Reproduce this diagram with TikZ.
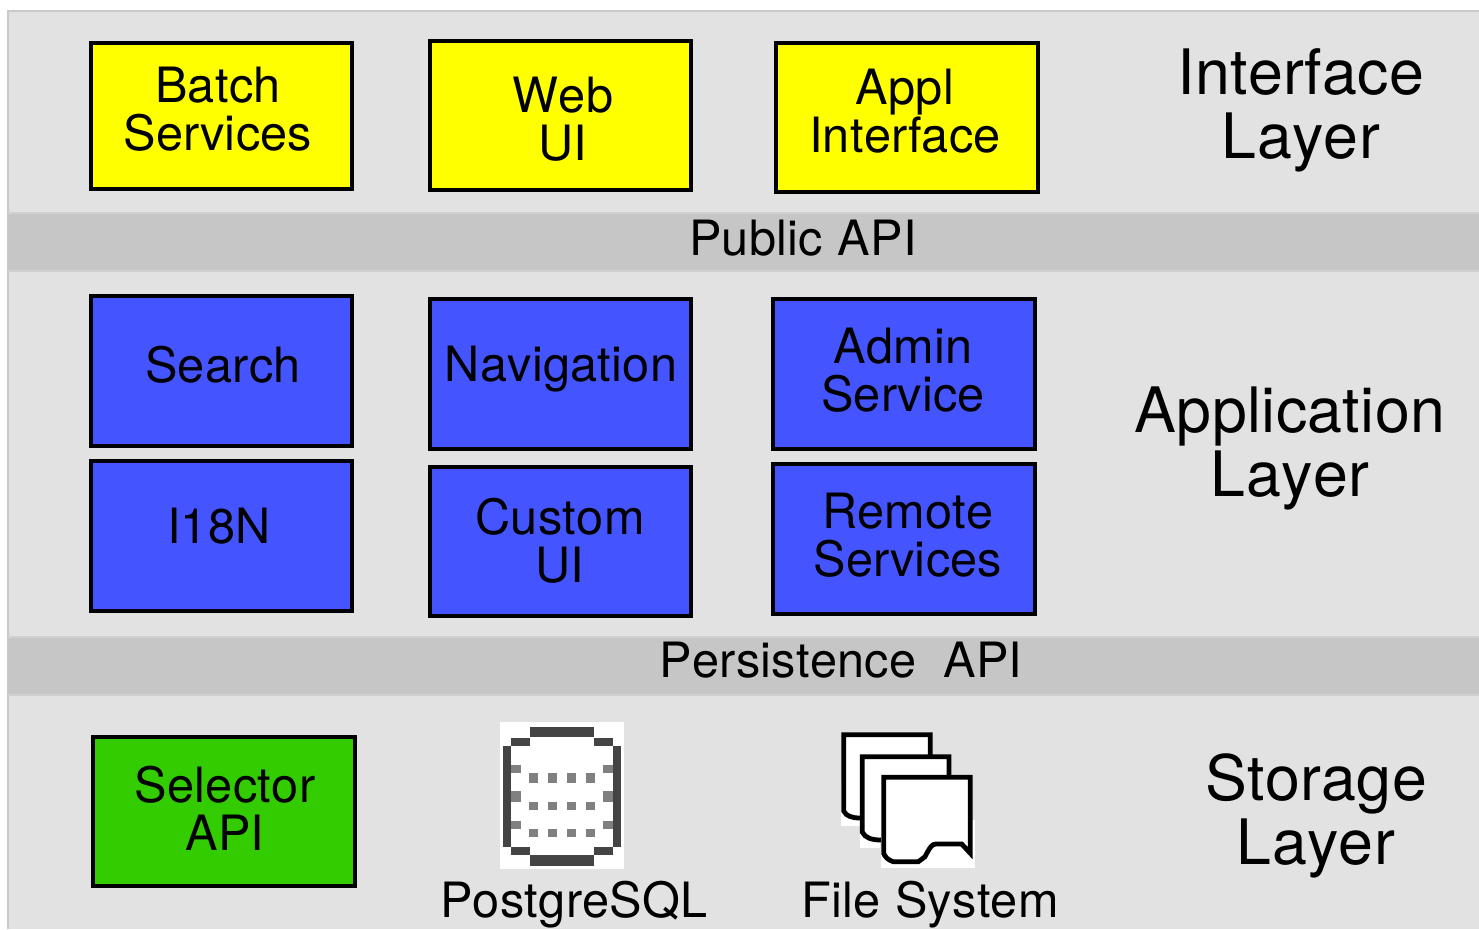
\documentclass[tikz,border=0pt]{standalone}
\usepackage{fontspec}
\setmainfont[Kerning=Off,LetterSpace=0.6]{TeX Gyre Heros}
\definecolor{panelgray}{HTML}{E2E2E2}
\definecolor{panelline}{HTML}{C9C9C9}
\definecolor{bandgray}{HTML}{C6C6C6}
\definecolor{bandline}{HTML}{D0D0D0}
\definecolor{ifyellow}{HTML}{FFFF00}
\definecolor{appblue}{HTML}{4455FF}
\definecolor{storegreen}{HTML}{33CC00}
\definecolor{dbdark}{HTML}{444444}
\definecolor{dbmid}{HTML}{808080}
\tikzset{
  x=0.75pt,y=-0.75pt,
  boxframe/.style={draw=black,line width=2.3pt},
  boxtext/.style={align=center,inner sep=0pt,font=\fontsize{36.5}{36}\selectfont},
  bandtext/.style={anchor=base,inner sep=0pt,font=\fontsize{36.5}{36}\selectfont},
  layertext/.style={align=center,inner sep=0pt,font=\fontsize{47}{48}\selectfont},
  sheet/.style={draw=black,line width=3.6pt,fill=white,line join=miter},
  dbd/.style={fill=dbdark},
  dbm/.style={fill=dbmid},
}
\newcommand{\appbox}[9]{%
  \node[boxframe,fill=#6,inner sep=0pt,minimum width={(#4-#2)*0.75pt},minimum height={(#5-#3)*0.75pt}] (#1) at ({(#2+#4)/2},{(#3+#5)/2}) {};
  \node[boxtext] (#1text) at (#7,#8) {#9};
}
\begin{document}
\begin{tikzpicture}
\useasboundingbox (0,0) rectangle (1479,929);
\fill[white] (0,0) rectangle (1479,929);
% panel
\fill[panelgray] (8,11) rectangle (1479,929);
\draw[panelline,line width=1.5pt] (8,929) -- (8,11) -- (1479,11);
% bands
\fill[bandgray] (8,213) rectangle (1479,271);
\fill[bandgray] (8,637) rectangle (1479,695);
\draw[bandline,line width=1.2pt] (8,213) -- (1479,213) (8,271) -- (1479,271) (8,637) -- (1479,637) (8,695) -- (1479,695);
\node[bandtext] (publicapi) at (803,255) {Public\hspace{0.3em}API};
\node[bandtext] (persistapi) at (841,677) {Persistence\hspace{0.55em}API};
% interface
\appbox{batch}{91}{43}{352}{189}{ifyellow}{218}{109}{Batch\\Services}
\appbox{web}{430}{41}{691}{190}{ifyellow}{563}{119}{Web\\UI}
\appbox{appl}{776}{43}{1038}{192}{ifyellow}{905}{111}{Appl\\Interface}
% application
\appbox{search}{91}{296}{352}{446}{appblue}{223}{365}{Search}
\appbox{nav}{430}{299}{691}{449}{appblue}{561}{369}{Navigation}
\appbox{admin}{773}{299}{1035}{449}{appblue}{903}{370}{Admin\\Service}
\appbox{i18n}{91}{461}{352}{611}{appblue}{219}{526}{I18N}
\appbox{custom}{430}{467}{691}{616}{appblue}{560}{541}{Custom\\UI}
\appbox{remote}{773}{464}{1035}{614}{appblue}{908}{535}{Remote\\Services}
% storage
\appbox{selector}{93}{737}{355}{886}{storegreen}{225}{808}{Selector\\API}
% database icon
\fill[white] (500,722) rectangle (624,869);
\fill[dbd] (530,727.3) rectangle (594,737.3);
\fill[dbd] (510.7,738.3) rectangle (530,745.7);
\fill[dbd] (594,738.3) rectangle (613.3,745.7);
\fill[dbd] (502.7,745.7) rectangle (510.7,847.3);
\fill[dbd] (613.3,745.7) rectangle (621.3,847.3);
\fill[dbd] (510.7,847.3) rectangle (530,855.3);
\fill[dbd] (594,847.3) rectangle (613.3,855.3);
\fill[dbd] (530,855.3) rectangle (594,866);
\foreach \ya/\yb in {764.7/772.7,791.3/802,820.7/828.7}{
  \fill[dbm] (510.7,\ya) rectangle (521.3,\yb);
  \fill[dbm] (602.7,\ya) rectangle (613.3,\yb);
}
\foreach \xa/\xb in {529.3/538,548.3/556.7,567.3/575.7,586/594.7}{
  \foreach \ya/\yb in {772.7/783.3,802/810,828.7/836.7}{
    \fill[dbm] (\xa,\ya) rectangle (\xb,\yb);
  }
}
\node[bandtext] (pg) at (574,917) {PostgreSQL};
% file icon
\fill[white] (841,780) rectangle (860,826);
\draw[sheet] (843.7,734.7) -- (930.3,734.7) -- (930.3,790) -- (860,818) .. controls (852,818) and (846,816) .. (843.7,811) -- cycle;
\fill[white] (860,800) rectangle (880,848);
\draw[sheet] (862.3,756.7) -- (949,756.7) -- (949,810) -- (881,840) .. controls (872,840) and (865,838) .. (862.3,832) -- cycle;
\fill[white] (881,820) rectangle (975,868);
\draw[sheet] (883.7,777.3) -- (970.3,777.3) -- (970.3,853.3) -- (961.7,844) -- (936,844) .. controls (932,844) and (930,847) .. (925,856.7) -- (918.3,861.7) -- (893.3,861.7) .. controls (888,860) and (885,857) .. (883.7,853.3) -- cycle;
\node[bandtext] (fs) at (930,917) {File\hspace{0.3em}System};
% layer labels
\node[layertext] (l1) at (1301,110) {Interface\\Layer};
\node[layertext] (l2) at (1290,448) {Application\\Layer};
\node[layertext] (l3) at (1316,816) {Storage\\Layer};
\end{tikzpicture}
\end{document}
